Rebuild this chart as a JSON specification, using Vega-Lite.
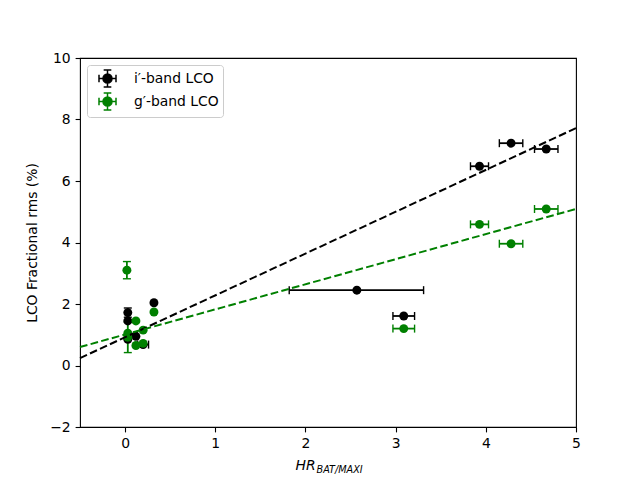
{
  "$schema": "https://vega.github.io/schema/vega-lite/v6.json",
  "width": 496,
  "height": 369,
  "autosize": {"type": "none"},
  "padding": {"left": 80, "top": 58, "right": 64, "bottom": 53},
  "background": "white",
  "config": {
    "font": "DejaVu Sans",
    "view": {"stroke": "black", "strokeWidth": 1.1},
    "axis": {
      "grid": false, "domain": false, "tickColor": "black", "tickSize": 4.9, "tickWidth": 1.1,
      "labelFontSize": 13.9, "labelColor": "black", "labelPadding": 4.9, "labelFlush": false,
      "titleFontSize": 13.9, "titleFontWeight": "normal", "titleColor": "black"
    }
  },
  "datasets": {
    "pts": [
      {"band": "i′-band LCO", "x": 0.03, "y": 1.72, "ylo": 1.57, "yhi": 1.87},
      {"band": "i′-band LCO", "x": 0.03, "y": 1.45},
      {"band": "i′-band LCO", "x": 0.03, "y": 0.85},
      {"band": "i′-band LCO", "x": 0.12, "y": 0.95},
      {"band": "i′-band LCO", "x": 0.2, "y": 0.68, "xlo": 0.14, "xhi": 0.26},
      {"band": "i′-band LCO", "x": 0.32, "y": 2.04},
      {"band": "i′-band LCO", "x": 2.57, "y": 2.45, "xlo": 1.82, "xhi": 3.31},
      {"band": "i′-band LCO", "x": 3.09, "y": 1.61, "xlo": 2.97, "xhi": 3.21},
      {"band": "i′-band LCO", "x": 3.93, "y": 6.48, "xlo": 3.83, "xhi": 4.03},
      {"band": "i′-band LCO", "x": 4.28, "y": 7.23, "xlo": 4.15, "xhi": 4.41},
      {"band": "i′-band LCO", "x": 4.67, "y": 7.04, "xlo": 4.54, "xhi": 4.8},
      {"band": "g′-band LCO", "x": 0.02, "y": 3.1, "ylo": 2.82, "yhi": 3.38},
      {"band": "g′-band LCO", "x": 0.03, "y": 1.05},
      {"band": "g′-band LCO", "x": 0.03, "y": 0.92, "ylo": 0.42, "yhi": 1.42},
      {"band": "g′-band LCO", "x": 0.12, "y": 1.45},
      {"band": "g′-band LCO", "x": 0.2, "y": 1.15},
      {"band": "g′-band LCO", "x": 0.12, "y": 0.65},
      {"band": "g′-band LCO", "x": 0.2, "y": 0.72},
      {"band": "g′-band LCO", "x": 0.32, "y": 1.74},
      {"band": "g′-band LCO", "x": 3.09, "y": 1.2, "xlo": 2.97, "xhi": 3.21},
      {"band": "g′-band LCO", "x": 3.93, "y": 4.59, "xlo": 3.83, "xhi": 4.03},
      {"band": "g′-band LCO", "x": 4.28, "y": 3.96, "xlo": 4.15, "xhi": 4.41},
      {"band": "g′-band LCO", "x": 4.67, "y": 5.09, "xlo": 4.54, "xhi": 4.8}
    ],
    "fits": [
      {"band": "i′-band LCO", "x": -0.5, "y": 0.24},
      {"band": "i′-band LCO", "x": 5, "y": 7.72},
      {"band": "g′-band LCO", "x": -0.5, "y": 0.6},
      {"band": "g′-band LCO", "x": 5, "y": 5.09}
    ]
  },
  "resolve": {"axis": {"x": "independent"}},
  "layer": [
    {
      "data": {"name": "pts"},
      "transform": [{"filter": "datum.xlo != null"}],
      "mark": {"type": "rule", "strokeWidth": 1.8},
      "encoding": {
        "x": {"field": "xlo", "type": "quantitative", "axis": null},
        "x2": {"field": "xhi"},
        "y": {"field": "y", "type": "quantitative"},
        "color": {"field": "band", "type": "nominal"}
      }
    },
    {
      "data": {"name": "pts"},
      "transform": [{"filter": "datum.ylo != null"}],
      "mark": {"type": "rule", "strokeWidth": 1.8},
      "encoding": {
        "x": {"field": "x", "type": "quantitative", "axis": null},
        "y": {"field": "ylo", "type": "quantitative"},
        "y2": {"field": "yhi"},
        "color": {"field": "band", "type": "nominal"}
      }
    },
    {
      "data": {"name": "pts"},
      "transform": [{"filter": "datum.xlo != null"}],
      "mark": {"type": "point", "shape": "M0,-1L0,1", "filled": false, "size": 64, "strokeWidth": 1.4, "opacity": 1},
      "encoding": {
        "x": {"field": "xlo", "type": "quantitative", "axis": null},
        "y": {"field": "y", "type": "quantitative"},
        "color": {"field": "band", "type": "nominal"}
      }
    },
    {
      "data": {"name": "pts"},
      "transform": [{"filter": "datum.xhi != null"}],
      "mark": {"type": "point", "shape": "M0,-1L0,1", "filled": false, "size": 64, "strokeWidth": 1.4, "opacity": 1},
      "encoding": {
        "x": {"field": "xhi", "type": "quantitative", "axis": null},
        "y": {"field": "y", "type": "quantitative"},
        "color": {"field": "band", "type": "nominal"}
      }
    },
    {
      "data": {"name": "pts"},
      "transform": [{"filter": "datum.ylo != null"}],
      "mark": {"type": "point", "shape": "M-1,0L1,0", "filled": false, "size": 64, "strokeWidth": 1.4, "opacity": 1},
      "encoding": {
        "x": {"field": "x", "type": "quantitative", "axis": null},
        "y": {"field": "ylo", "type": "quantitative"},
        "color": {"field": "band", "type": "nominal"}
      }
    },
    {
      "data": {"name": "pts"},
      "transform": [{"filter": "datum.yhi != null"}],
      "mark": {"type": "point", "shape": "M-1,0L1,0", "filled": false, "size": 64, "strokeWidth": 1.4, "opacity": 1},
      "encoding": {
        "x": {"field": "x", "type": "quantitative", "axis": null},
        "y": {"field": "yhi", "type": "quantitative"},
        "color": {"field": "band", "type": "nominal"}
      }
    },
    {
      "data": {"name": "pts"},
      "mark": {"type": "point", "shape": "circle", "filled": true, "size": 80, "opacity": 1},
      "encoding": {
        "x": {
          "field": "x", "type": "quantitative",
          "scale": {"domain": [-0.5, 5], "nice": false, "zero": false},
          "axis": {"orient": "bottom", "values": [0, 1, 2, 3, 4, 5], "title": "HR", "titleFontStyle": "italic", "titleAlign": "left", "titleAnchor": "start", "titleX": 215, "titleY": 42, "titleBaseline": "alphabetic"}
        },
        "y": {
          "field": "y", "type": "quantitative",
          "scale": {"domain": [-2, 10], "nice": false, "zero": false},
          "axis": {"values": [-2, 0, 2, 4, 6, 8, 10], "title": "LCO Fractional rms (%)", "titlePadding": 10}
        },
        "color": {
          "field": "band", "type": "nominal",
          "scale": {"domain": ["i′-band LCO", "g′-band LCO"], "range": ["black", "green"]},
          "legend": {
            "title": null, "orient": "top-left", "offset": 7, "padding": 4,
            "fillColor": "white", "strokeColor": "#cccccc", "cornerRadius": 3,
            "labelFontSize": 13.9, "labelColor": "black", "labelOffset": 17, "rowPadding": 0,
            "symbolType": "M0.53,0A0.53,0.53,0,1,1,-0.53,0A0.53,0.53,0,1,1,0.53,0Z M-1,0L1,0 M0,-1L0,1 M-1,-0.45L-1,0.45 M1,-0.45L1,0.45 M-0.45,-1L0.45,-1 M-0.45,1L0.45,1",
            "symbolSize": 289, "symbolStrokeWidth": 1.5, "symbolOffset": 7,
            "encode": {"symbols": {"update": {"stroke": {"scale": "color", "field": "value"}, "fill": {"scale": "color", "field": "value"}, "opacity": {"value": 1}}}}
          }
        }
      }
    },
    {
      "data": {"name": "fits"},
      "mark": {"type": "line", "strokeWidth": 2, "strokeDash": [7.7, 3.3]},
      "encoding": {
        "x": {"field": "x", "type": "quantitative", "axis": {"orient": "bottom", "title": "BAT/MAXI", "titleFontSize": 9.7, "titleFontStyle": "italic", "titleAlign": "left", "titleAnchor": "start", "titleX": 236, "titleY": 45, "titleBaseline": "alphabetic", "labels": false, "ticks": false, "domain": false}},
        "y": {"field": "y", "type": "quantitative"},
        "color": {"field": "band", "type": "nominal"}
      }
    }
  ]
}
